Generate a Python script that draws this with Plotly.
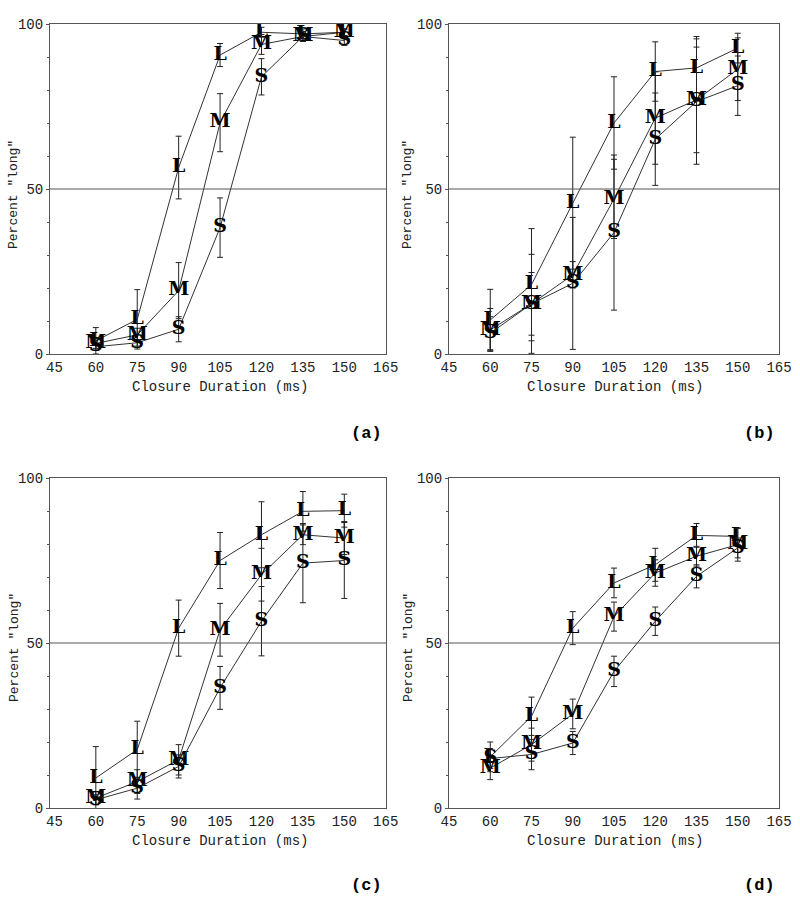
import plotly.graph_objects as go

# ---------------- data ----------------
durations = [60, 75, 90, 105, 120, 135, 150]
x_ticks = [45, 60, 75, 90, 105, 120, 135, 150, 165]
y_ticks = [0, 50, 100]
panel_labels = ["(a)", "(b)", "(c)", "(d)"]
series_names = ["L", "M", "S"]
x_title = "Closure Duration (ms)"
y_title = 'Percent "long"'

a_L = [4.0, 10.5, 56.5, 90.6, 97.5, 97.0, 97.5]
a_L_err = [4.0, 9.0, 9.5, 3.5, 1.5, 1.5, 1.0]
a_M = [3.2, 5.8, 19.2, 70.1, 93.8, 96.2, 97.5]
a_M_err = [1.5, 2.0, 8.5, 8.8, 3.0, 1.5, 1.0]
a_S = [2.2, 3.4, 7.5, 38.3, 84.0, 96.2, 95.0]
a_S_err = [1.0, 1.0, 3.8, 9.0, 5.5, 1.5, 1.5]

b_L = [10.3, 21.0, 45.7, 70.0, 85.6, 86.7, 92.7]
b_L_err = [9.3, 17.0, 20.0, 14.0, 9.0, 9.5, 4.5]
b_M = [7.3, 15.2, 24.0, 47.0, 71.5, 77.0, 86.3]
b_M_err = [6.5, 15.0, 4.0, 12.0, 14.0, 16.0, 9.5]
b_S = [6.3, 15.2, 21.4, 36.8, 65.1, 76.5, 81.3]
b_S_err = [5.0, 9.5, 20.0, 23.5, 14.0, 19.0, 9.0]

c_L = [9.1, 17.7, 54.5, 75.0, 82.8, 89.9, 90.1]
c_L_err = [9.5, 8.6, 8.5, 8.5, 10.0, 6.0, 5.0]
c_M = [3.0, 8.0, 14.6, 54.0, 70.7, 82.8, 81.8]
c_M_err = [2.0, 3.6, 4.6, 8.0, 8.0, 3.0, 5.0]
c_S = [2.5, 6.0, 12.6, 36.4, 56.6, 74.2, 75.0]
c_S_err = [1.5, 3.3, 3.5, 6.5, 10.5, 12.0, 11.5]

d_L = [15.5, 27.8, 54.5, 68.2, 73.7, 82.6, 82.3]
d_L_err = [4.5, 5.8, 5.0, 4.5, 5.0, 3.6, 2.5]
d_M = [12.1, 19.2, 28.5, 58.0, 71.2, 76.3, 79.8]
d_M_err = [3.5, 5.0, 4.5, 4.4, 4.0, 3.0, 5.0]
d_S = [15.0, 16.2, 19.7, 41.4, 56.6, 70.2, 78.8]
d_S_err = [3.0, 4.6, 3.5, 4.6, 4.3, 3.5, 3.0]

panels = [
    [(a_L, a_L_err), (a_M, a_M_err), (a_S, a_S_err)],
    [(b_L, b_L_err), (b_M, b_M_err), (b_S, b_S_err)],
    [(c_L, c_L_err), (c_M, c_M_err), (c_S, c_S_err)],
    [(d_L, d_L_err), (d_M, d_M_err), (d_S, d_S_err)],
]

# ---------------- layout geometry ----------------
W, H = 800, 904
px_x = [(50, 386), (449, 779), (50, 386), (449, 779)]
px_y = [(24, 354), (24, 354), (478, 808), (478, 808)]
x_ranges = [[43.4, 165.1], [45, 165], [43.4, 165.1], [45, 165]]
label_pos = [(366, 433), (759, 433), (366, 885), (759, 885)]
xtitle_pos = [(220, 387), (615, 387), (220, 841), (615, 841)]
ytitle_pos = [(14, 195), (408, 195), (14, 648), (408, 648)]

AX_COLOR = "#555555"
TXT = "#222222"
MONO = "Liberation Mono, Courier New, monospace"

fig = go.Figure()
layout = dict(
    width=W, height=H,
    template="none",
    margin=dict(l=0, r=0, t=0, b=0, autoexpand=False),
    paper_bgcolor="white", plot_bgcolor="white",
    showlegend=False,
    shapes=[], annotations=[],
)

for i, panel in enumerate(panels):
    n = "" if i == 0 else str(i + 1)
    xa, ya = "x" + n, "y" + n
    for name, (vals, err) in zip(series_names, panel):
        fig.add_trace(go.Scatter(
            x=durations, y=vals, xaxis=xa, yaxis=ya,
            mode="lines+text", text=[name] * len(vals),
            textposition="middle center",
            textfont=dict(family="DejaVu Serif", size=19, color="black", weight="bold"),
            line=dict(color="#333333", width=1),
            error_y=dict(type="data", array=err, visible=True,
                         color="#222222", thickness=1, width=3),
            cliponaxis=False, hoverinfo="skip",
        ))
    x0, x1 = px_x[i]
    y0, y1 = px_y[i]
    layout["xaxis" + n] = dict(
        domain=[x0 / W, x1 / W], range=x_ranges[i], anchor=ya, automargin=False,
        tickmode="array", tickvals=x_ticks, ticktext=[str(t) for t in x_ticks],
        showgrid=False, zeroline=False, showline=True, mirror=True,
        linecolor=AX_COLOR, linewidth=1, ticks="",
        tickfont=dict(family=MONO, size=14, color=TXT),
    )
    layout["yaxis" + n] = dict(
        domain=[1 - y1 / H, 1 - y0 / H], range=[0, 100], anchor=xa, automargin=False,
        tickmode="array", tickvals=y_ticks, ticktext=[str(t) for t in y_ticks],
        showgrid=False, zeroline=False, showline=True, mirror=True,
        linecolor=AX_COLOR, linewidth=1, ticks="outside", ticklen=3,
        tickcolor=AX_COLOR,
        minor=dict(dtick=10, ticks="outside", ticklen=2, tickcolor=AX_COLOR, showgrid=False),
        tickfont=dict(family=MONO, size=14, color=TXT),
    )
    layout["shapes"].append(dict(
        type="line", xref=xa + " domain", yref=ya, x0=0, x1=1, y0=50, y1=50,
        line=dict(color=AX_COLOR, width=1),
    ))
    lx, ly = label_pos[i]
    layout["annotations"].append(dict(
        x=lx / W, y=1 - ly / H, xref="paper", yref="paper",
        text="<b>" + panel_labels[i] + "</b>", showarrow=False,
        font=dict(family=MONO, size=17, color="black"),
        xanchor="center", yanchor="middle",
    ))
    tx, ty = xtitle_pos[i]
    layout["annotations"].append(dict(
        x=tx / W, y=1 - ty / H, xref="paper", yref="paper",
        text=x_title, showarrow=False,
        font=dict(family=MONO, size=14, color=TXT),
        xanchor="center", yanchor="middle",
    ))
    vx, vy = ytitle_pos[i]
    layout["annotations"].append(dict(
        x=vx / W, y=1 - vy / H, xref="paper", yref="paper",
        text=y_title, showarrow=False, textangle=-90,
        font=dict(family=MONO, size=13, color=TXT),
        xanchor="center", yanchor="middle",
    ))

fig.update_layout(**layout)
fig.write_html(
    "out.html",
    config={"displayModeBar": False},
    post_script="document.body.style.margin='0';document.body.style.overflow='hidden';",
)
